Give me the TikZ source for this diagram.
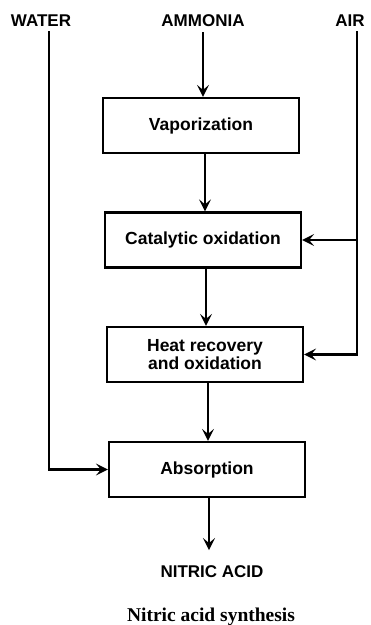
\documentclass[tikz,border=0pt]{standalone}
\usepackage{fontspec}
\setmainfont{Liberation Sans}
\newfontfamily\captionface{Liberation Serif}
\usetikzlibrary{arrows.meta}
\begin{document}
\begin{tikzpicture}[x=1pt,y=-1pt,
  line width=2.2pt,
  stage/.style={draw, line width=2.2pt, minimum width=196pt, minimum height=55pt,
    align=center, font=\bfseries\fontsize{17.5}{18}\selectfont},
  stream/.style={font=\bfseries\fontsize{17}{20}\selectfont, anchor=base, inner sep=0pt},
  arr/.style={-{Stealth[length=12pt,width=12pt,inset=5pt]}}]
\useasboundingbox (0,0) rectangle (371,625);

% feed labels
\node[stream] (water) at (41,26) {WATER};
\node[stream] (ammonia) at (203,26) {AMMONIA};
\node[stream] (air) at (350,26) {AIR};

% process stages
\node[stage] (vap) at (201,125.5) {Vaporization};
\node[stage] (cat) at (203,240) {Catalytic oxidation};
\node[stage] (heat) at (205,354.5) {Heat recovery\\and oxidation};
\node[stage] (abs) at (207,469.5) {Absorption};

% product
\node[stream, inner ysep=14pt] (acid) at (212,577) {NITRIC ACID};

% caption
\node[anchor=base, inner sep=0pt, font=\captionface\bfseries\fontsize{19.5}{22}\selectfont]
  (cap) at (211,621) {Nitric acid synthesis};

% feed line ends
\coordinate (wtop) at (49,31);
\coordinate (atop) at (357,31);
\coordinate (abot) at (357,354.5);
\coordinate (abr) at (357,240);

% main flow
\draw[arr] (ammonia.south) ++(0,-5pt) -- (ammonia.south |- vap.north);
\draw[arr] (vap.south) ++(4pt,0) coordinate (v1) -- (v1 |- cat.north);
\draw[arr] (cat.south) ++(3pt,0) coordinate (c1) -- (c1 |- heat.north);
\draw[arr] (heat.south) ++(3pt,0) coordinate (h1) -- (h1 |- abs.north);
\draw[arr] (abs.south) ++(2pt,0) coordinate (a1) -- (a1 |- acid.north);

% water feed to absorption
\draw[arr] (wtop) |- (abs.west);

% air feed to both oxidation stages
\draw[arr] (atop) -- (abot) -- (heat.east);
\draw[arr] (abr) -- (cat.east);
\end{tikzpicture}
\end{document}
